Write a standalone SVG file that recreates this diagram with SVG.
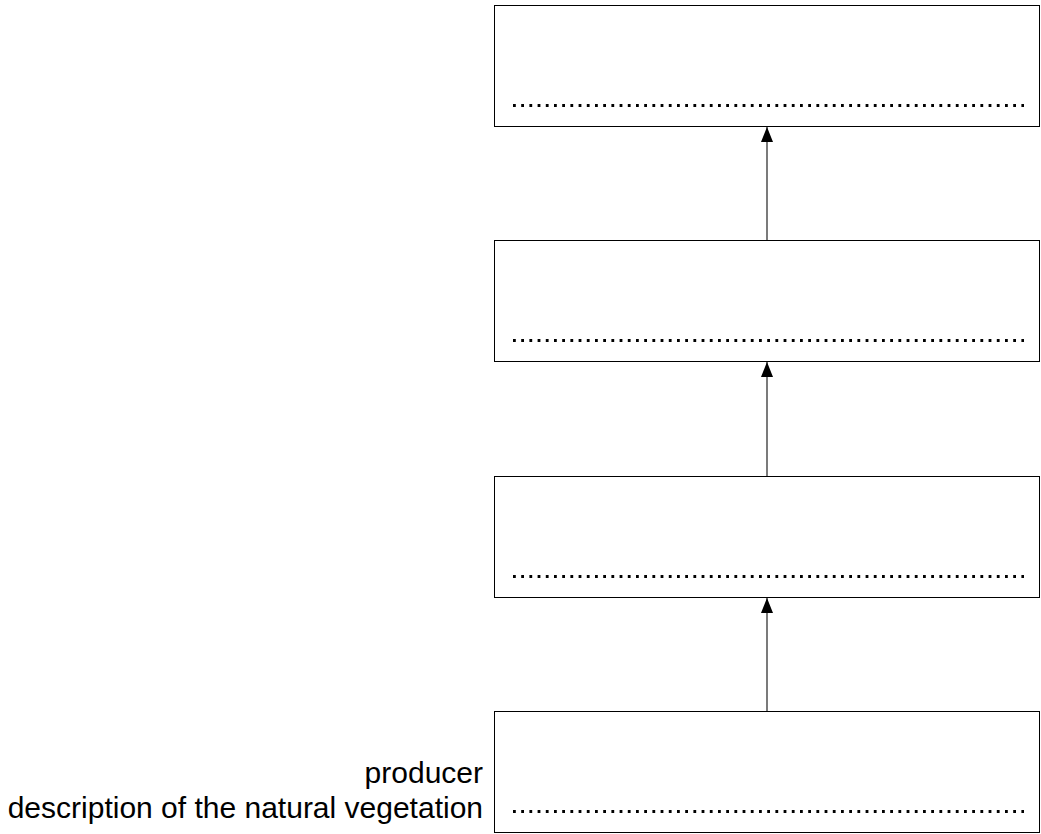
<svg xmlns="http://www.w3.org/2000/svg" width="1041" height="834" viewBox="0 0 1041 834">
<style>
.box{fill:#fff;stroke:#000;stroke-width:1}
.dots{stroke:#000;stroke-width:2.8;stroke-dasharray:2.8 5.4;fill:none}
.conn{stroke:#222;stroke-width:1.2;fill:none}
.lbl{font-family:"Liberation Sans",Arial,sans-serif;font-size:30px;fill:#000;text-anchor:end}
</style>
<defs>
<marker id="ah" viewBox="0 0 15 12" refX="15" refY="6" markerWidth="15" markerHeight="12" markerUnits="userSpaceOnUse" orient="auto">
<path d="M0,0 L15,6 L0,12 z" fill="#000"/>
</marker>
</defs>
<rect x="0" y="0" width="1041" height="834" fill="#fff"/>
<g id="box1"><rect class="box" x="494.5" y="5.5" width="545" height="121"/><line class="dots" x1="513" y1="105.5" x2="1024" y2="105.5"/></g>
<g id="box2"><rect class="box" x="494.5" y="240.5" width="545" height="121"/><line class="dots" x1="513" y1="340.5" x2="1024" y2="340.5"/></g>
<g id="box3"><rect class="box" x="494.5" y="476.5" width="545" height="121"/><line class="dots" x1="513" y1="576.5" x2="1024" y2="576.5"/></g>
<g id="box4"><rect class="box" x="494.5" y="711.5" width="545" height="121"/><line class="dots" x1="513" y1="811.5" x2="1024" y2="811.5"/></g>
<g id="connectors">
<line class="conn" x1="767" y1="240" x2="767" y2="127" marker-end="url(#ah)"/>
<line class="conn" x1="767" y1="476" x2="767" y2="362" marker-end="url(#ah)"/>
<line class="conn" x1="767" y1="711" x2="767" y2="598" marker-end="url(#ah)"/>
</g>
<g id="label">
<text class="lbl" x="483" y="783">producer</text>
<text class="lbl" x="483" y="818">description of the natural vegetation</text>
</g>
</svg>
